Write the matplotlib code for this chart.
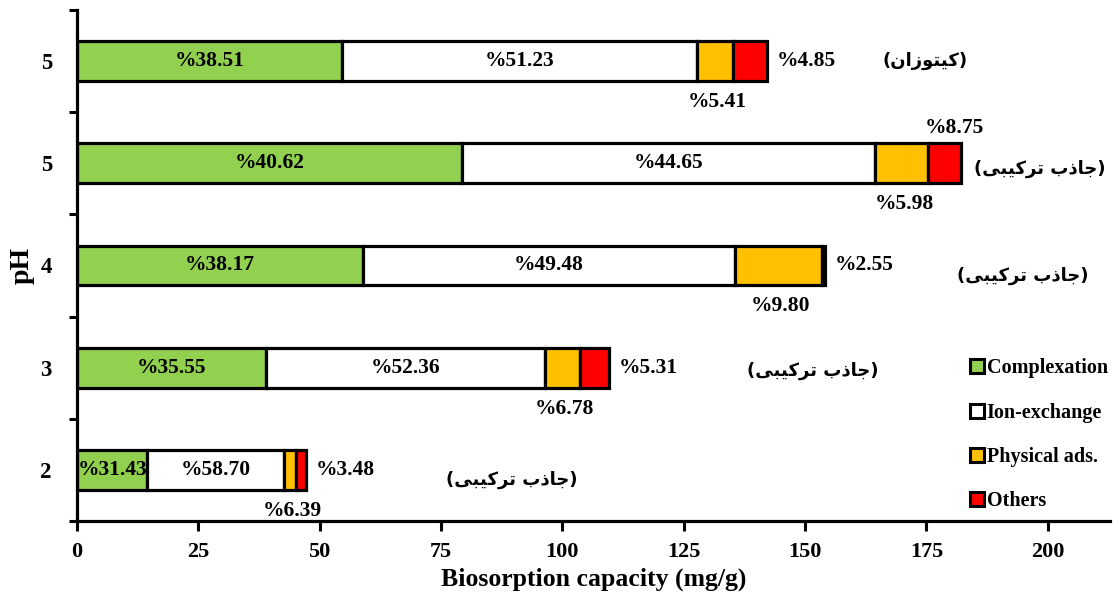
import numpy as np
import matplotlib.pyplot as plt
from matplotlib.lines import Line2D

plt.rcParams['font.family'] = ['Liberation Serif', 'DejaVu Sans']
plt.rcParams['font.weight'] = 'bold'
plt.rcParams['axes.labelweight'] = 'bold'

# bars from top to bottom
ph_labels = ['5', '5', '4', '3', '2']
complexation = [54.7, 79.3, 58.9, 38.9, 14.5]
ion_exchange = [73.0, 85.1, 76.6, 57.5, 28.1]
physical = [7.4, 10.9, 17.9, 7.2, 2.6]
others = [7.0, 6.8, 0.7, 6.0, 1.9]

pct_comp = ['%38.51', '%40.62', '%38.17', '%35.55', '%31.43']
pct_ion = ['%51.23', '%44.65', '%49.48', '%52.36', '%58.70']
pct_phys = ['%5.41', '%5.98', '%9.80', '%6.78', '%6.39']
pct_oth = ['%4.85', '%8.75', '%2.55', '%5.31', '%3.48']

# persian labels, written in visual order with presentation forms
chitosan = '(\uFEE5\uFE8D\uFEAF\uFEEE\uFE98\uFBFF\uFB90)'
composite = '(\uFBFD\uFE92\uFBFF\uFB90\uFEAE\uFE97 \uFE8F\uFEAB\uFE8E\uFE9F)'
sorbent = [chitosan, composite, composite, composite, composite]
sorbent_x = [174.7, 198.3, 194.8, 151.6, 89.6]
sorbent_dy = [0.0, -0.05, -0.1, -0.03, -0.1]

series = [complexation, ion_exchange, physical, others]
names = ['Complexation', 'Ion-exchange', 'Physical ads.', 'Others']
colors = ['#92D050', '#FFFFFF', '#FFC000', '#FF0000']

fig = plt.figure(figsize=(11.17, 5.95), dpi=100)
ax = fig.add_axes([0.0689, 0.1244, 0.9248, 0.8588])

y = np.arange(len(ph_labels))[::-1]
left = np.zeros(len(ph_labels))
for vals, c in zip(series, colors):
    ax.barh(y, vals, left=left, height=0.39, color=c, edgecolor='black', linewidth=2.3)
    left = left + np.array(vals)

fs = 15.5
comp = np.array(complexation)
ion = np.array(ion_exchange)
phys = np.array(physical)
tot = left
for i in range(len(y)):
    ax.text(comp[i] / 2, y[i], pct_comp[i], ha='center', va='center', fontsize=fs)
    ax.text(comp[i] + ion[i] / 2, y[i], pct_ion[i], ha='center', va='center', fontsize=fs)
    ax.text(comp[i] + ion[i] + phys[i] / 2 + 0.5, y[i] - 0.4, pct_phys[i], ha='center', va='center', fontsize=fs)
    if i == 1:
        ax.text(tot[i] - 1.3, y[i] + 0.35, pct_oth[i], ha='center', va='center', fontsize=fs)
    else:
        ax.text(tot[i] + 2, y[i], pct_oth[i], ha='left', va='center', fontsize=fs)
    ax.text(sorbent_x[i], y[i] + sorbent_dy[i], sorbent[i], ha='center', va='center', fontsize=13,
            family=['DejaVu Sans'], fontweight='bold')

ax.set_xlim(0, 212.8)
ax.set_ylim(-0.5, 4.5)
ax.set_xticks(np.arange(0, 201, 25))
ax.set_yticks(y)
ax.set_yticklabels(ph_labels)
ax.set_yticks(np.arange(-0.5, 4.6, 1), minor=True)
ax.tick_params(axis='y', which='major', length=0, pad=18, labelsize=16.5)
ax.tick_params(axis='y', which='minor', length=6, width=2.2, direction='out')
ax.tick_params(axis='x', length=7, width=2.2, direction='out', labelsize=16, pad=8)
for s in ['top', 'right']:
    ax.spines[s].set_visible(False)
for s in ['left', 'bottom']:
    ax.spines[s].set_linewidth(2.3)

ax.set_xlabel('Biosorption capacity (mg/g)', fontsize=18.5, labelpad=4)
ax.set_ylabel('pH', fontsize=20, labelpad=4)

handles = [Line2D([], [], marker='s', ls='', markerfacecolor=c, markeredgecolor='black',
                  markersize=10, markeredgewidth=2.2) for c in colors]
ax.legend(handles, names, loc='upper left', bbox_to_anchor=(0.864, 0.318), frameon=False,
          fontsize=14.5, handlelength=0.7, handletextpad=0.15, labelspacing=1.2,
          borderpad=0, borderaxespad=0)

fig.savefig('out.png', dpi=100)
